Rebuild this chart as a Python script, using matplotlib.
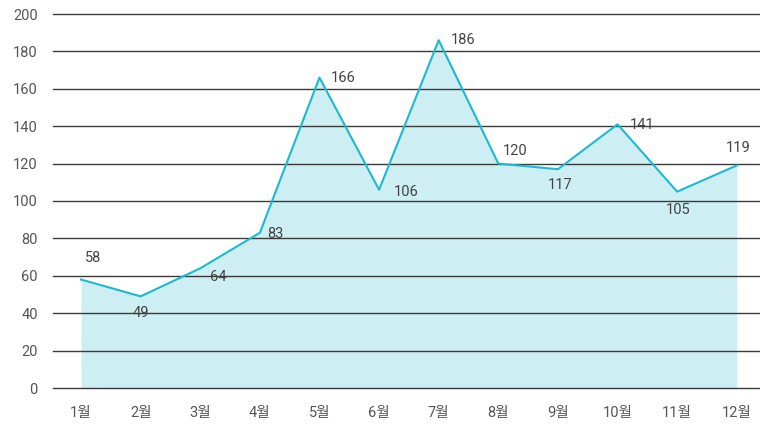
import matplotlib
matplotlib.use("Agg")
import matplotlib.pyplot as plt
import numpy as np

plt.rcParams['font.family'] = ['Roboto', 'Noto Sans CJK KR', 'DejaVu Sans']

# data
months = ['1월', '2월', '3월', '4월', '5월', '6월', '7월', '8월', '9월', '10월', '11월', '12월']
values = [58, 49, 64, 83, 166, 106, 186, 120, 117, 141, 105, 119]
yticks = [0, 20, 40, 60, 80, 100, 120, 140, 160, 180, 200]

# label offsets in pixels (dx, dy), style only
offsets = [(12, 22), (0, -17), (18, -9), (16, -1), (24, 0), (27, -2),
           (24, 0), (17, 13), (2, -16), (25, -1), (1, -18), (1, 17)]

line_color = '#1db9cf'
fill_color = '#cdeef3'

fig = plt.figure(figsize=(7.6, 4.24), dpi=100)
ax = fig.add_axes([53/760, 36/424, 707/760, 374/424])

x = np.arange(len(months))
ax.fill_between(x, values, 0, color=fill_color, lw=0, zorder=1)
ax.plot(x, values, color=line_color, lw=1.5, zorder=3)

for yv in yticks:
    ax.axhline(yv, color='#3a3a3a', lw=1.0, zorder=2, clip_on=False)

for i, v in enumerate(values):
    dx, dy = offsets[i]
    ax.annotate(str(v), (x[i], v), xytext=(dx, dy), textcoords='offset pixels',
                ha='center', va='center', fontsize=10.5, color='#444444', zorder=4)

ax.set_xlim(-0.47, 11.39)
ax.set_ylim(0, 200)
ax.set_xticks(x)
ax.set_xticklabels(months)
ax.set_yticks(yticks)
ax.tick_params(axis='both', length=0, labelsize=10.5, colors='#555555')
ax.tick_params(axis='x', pad=13)
ax.tick_params(axis='y', pad=11)
for s in ax.spines.values():
    s.set_visible(False)

fig.savefig('out.png', dpi=100)
